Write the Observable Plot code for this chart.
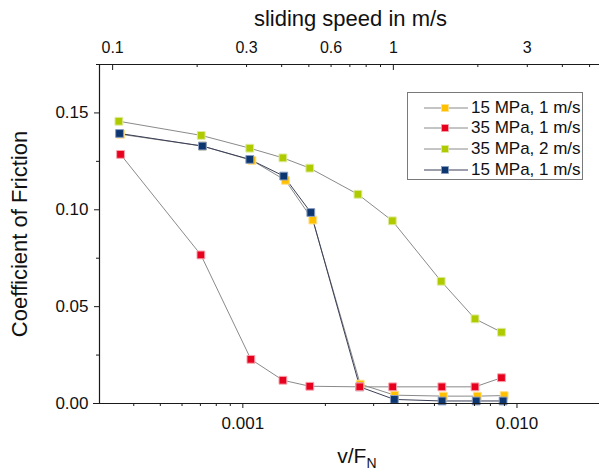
<!DOCTYPE html>
<html><head><meta charset="utf-8">
<script src="https://cdn.jsdelivr.net/npm/d3@7"></script>
<script src="https://cdn.jsdelivr.net/npm/@observablehq/plot@0.6"></script>
<style>
body{margin:0;background:#fff;}
#wrap{position:relative;width:599px;height:470px;font-family:"Liberation Sans",Arial,sans-serif;}
#legend{position:absolute;left:407px;top:92px;width:176px;height:88px;border:1px solid #7a7a7a;background:#fff;box-sizing:border-box;}
.row{position:absolute;left:0;height:20px;display:flex;align-items:center;font-size:17px;color:#111;white-space:nowrap;}
.row svg{display:block;}
</style></head><body><div id="wrap"><div id="legend"></div></div>
<script>
// ---- data ----
const seriesNames = ["15 MPa, 1 m/s", "35 MPa, 1 m/s", "35 MPa, 2 m/s", "15 MPa, 1 m/s"];
const seriesColors = ["#FFC000", "#E8001F", "#AFCB00", "#0C3670"];
const seriesEdges = ["#FFE08A", "#F7A3AC", "#DDEB9C", "#8A9CC0"];
const seriesLines = ["#8a8a8a", "#8a8a8a", "#8a8a8a", "#3a3f55"];

const yellowX = [0.000358, 0.000712, 0.00108, 0.00143, 0.00180, 0.00268, 0.00358, 0.00539, 0.00717, 0.00898];
const yellowY = [0.1390, 0.1329, 0.1255, 0.1152, 0.0947, 0.0100, 0.0043, 0.0038, 0.0038, 0.0041];
const redX = [0.000358, 0.000703, 0.00107, 0.00140, 0.001755, 0.00267, 0.00352, 0.00532, 0.00703, 0.00878];
const redY = [0.1286, 0.0767, 0.0228, 0.0120, 0.0089, 0.0086, 0.0086, 0.0086, 0.0086, 0.0133];
const greenX = [0.000353, 0.000705, 0.00106, 0.00140, 0.001755, 0.00263, 0.00351, 0.00529, 0.00703, 0.00878];
const greenY = [0.1457, 0.1384, 0.1318, 0.1268, 0.1215, 0.1080, 0.0943, 0.0631, 0.0437, 0.0368];
const navyX = [0.000355, 0.000712, 0.00106, 0.00141, 0.00177, 0.00267, 0.00357, 0.00533, 0.00710, 0.00890];
const navyY = [0.1394, 0.1329, 0.1260, 0.1174, 0.0986, 0.0086, 0.0021, 0.0013, 0.0013, 0.0013];

const xDomain = [0.0003, 0.02];
const yDomain = [0, 0.175];
const xMajor = [0.001, 0.01];
const xMajorLabels = ["0.001", "0.010"];
const xMinor = [0.0004, 0.0005, 0.0006, 0.0007, 0.0008, 0.0009, 0.002, 0.003, 0.004, 0.005, 0.006, 0.007, 0.008, 0.009];
const yMajor = [0, 0.05, 0.10, 0.15];
const yMinor = [0.025, 0.075, 0.125];
const speedMajor = [0.1, 1];
const speedLabels = [0.1, 0.3, 0.6, 1, 3];
const speedMinor = [0.2, 0.3, 0.4, 0.5, 0.6, 0.7, 0.8, 0.9, 2, 3, 4, 5];

// top axis (sliding speed) expressed in v/F_N units
const speedRef = 0.1, vfRef = 0.000335, speedK = 1.024;
const speedToVF = s => vfRef * Math.pow(10, Math.log10(s / speedRef) * speedK);

const xs = [yellowX, redX, greenX, navyX];
const ys = [yellowY, redY, greenY, navyY];
const drawOrder = [0, 3, 1, 2];

const W = 599, H = 470, mL = 99, mR = 0, mT = 64, mB = 67;
const PH = H - mT - mB, PW = W - mL - mR;
const axisColor = "#1a1a1a";
const font = "Liberation Sans, Arial, sans-serif";

const marks = [];
for (const si of drawOrder) {
  const data = xs[si].map((x, i) => ({x, y: ys[si][i]}));
  marks.push(Plot.line(data, {x: "x", y: "y", stroke: seriesLines[si], strokeWidth: 1}));
}
for (const si of drawOrder) {
  const data = xs[si].map((x, i) => ({x, y: ys[si][i]}));
  marks.push(Plot.dot(data, {x: "x", y: "y", symbol: "square", r: 4.4, fill: seriesColors[si], stroke: seriesEdges[si], strokeWidth: 1}));
}

// frame lines
marks.push(Plot.ruleX([xDomain[0]], {stroke: axisColor, strokeWidth: 1.2}));
marks.push(Plot.ruleY([yDomain[0]], {stroke: axisColor, strokeWidth: 1.2, insetLeft: -6}));
marks.push(Plot.ruleY([yDomain[1]], {stroke: axisColor, strokeWidth: 1.2, insetLeft: -3}));

// bottom ticks (outward)
marks.push(Plot.ruleX(xMajor, {x: d => d, stroke: axisColor, insetTop: PH, insetBottom: -5}));
marks.push(Plot.ruleX(xMinor, {x: d => d, stroke: axisColor, insetTop: PH, insetBottom: -3}));
marks.push(Plot.text(xMajor, {x: d => d, text: (d, i) => xMajorLabels[i], frameAnchor: "bottom", lineAnchor: "bottom", dy: 25.3, fontSize: 17, fill: "#111"}));

// left ticks (outward)
marks.push(Plot.ruleY(yMajor, {y: d => d, stroke: axisColor, insetLeft: -5, insetRight: PW}));
marks.push(Plot.ruleY(yMinor, {y: d => d, stroke: axisColor, insetLeft: -3, insetRight: PW}));
marks.push(Plot.text(yMajor, {y: d => d, text: d => d.toFixed(2), frameAnchor: "left", textAnchor: "end", lineAnchor: "middle", dx: -11, fontSize: 17, fill: "#111"}));

// top ticks (inward)
marks.push(Plot.ruleX(speedMajor, {x: d => speedToVF(d), stroke: axisColor, insetBottom: PH - 6}));
marks.push(Plot.ruleX(speedMinor, {x: d => speedToVF(d), stroke: axisColor, insetBottom: PH - 3}));
marks.push(Plot.text(speedLabels, {x: d => speedToVF(d), text: d => String(d), frameAnchor: "top", lineAnchor: "bottom", dy: -11.3, fontSize: 16, fill: "#111"}));

// titles
marks.push(Plot.text(["sliding speed in m/s"], {text: d => d, frameAnchor: "top", lineAnchor: "bottom", dx: 1, dy: -38.7, fontSize: 22, fill: "#111"}));
marks.push(Plot.text(["Coefficient of Friction"], {text: d => d, frameAnchor: "left", rotate: -90, lineAnchor: "bottom", textAnchor: "middle", dx: -72.5, fontSize: 22, fill: "#111"}));
marks.push(Plot.text(["v/F"], {text: d => d, frameAnchor: "bottom", textAnchor: "start", lineAnchor: "bottom", dx: -12.3, dy: 59.5, fontSize: 21, fill: "#111"}));
marks.push(Plot.text(["N"], {text: d => d, frameAnchor: "bottom", textAnchor: "start", lineAnchor: "bottom", dx: 17, dy: 64.5, fontSize: 14, fill: "#111"}));

const chart = Plot.plot({
  width: W, height: H,
  marginLeft: mL, marginRight: mR, marginTop: mT, marginBottom: mB,
  x: {type: "log", domain: xDomain, axis: null},
  y: {domain: yDomain, axis: null},
  style: {fontFamily: font, fontSize: "17px", background: "#fff", color: "#111"},
  marks
});
const wrap = document.getElementById("wrap");
wrap.insertBefore(chart, wrap.firstChild);
chart.style.position = "absolute";
chart.style.left = "0";
chart.style.top = "0";

// legend
const legend = d3.select("#legend");
[0, 1, 2, 3].forEach(i => {
  const row = legend.append("div").attr("class", "row").style("top", (4.5 + i * 20.8) + "px");
  const svg = row.append("svg").attr("width", 62).attr("height", 20);
  svg.append("line").attr("x1", 16).attr("x2", 60).attr("y1", 10).attr("y2", 10)
    .attr("stroke", seriesLines[i]).attr("stroke-width", 1);
  svg.append("rect").attr("x", 33.5).attr("y", 6.5).attr("width", 7).attr("height", 7)
    .attr("fill", seriesColors[i]).attr("stroke", seriesEdges[i]).attr("stroke-width", 0.8);
  row.append("span").style("margin-left", "1px").text(seriesNames[i]);
});
</script>
</body></html>
